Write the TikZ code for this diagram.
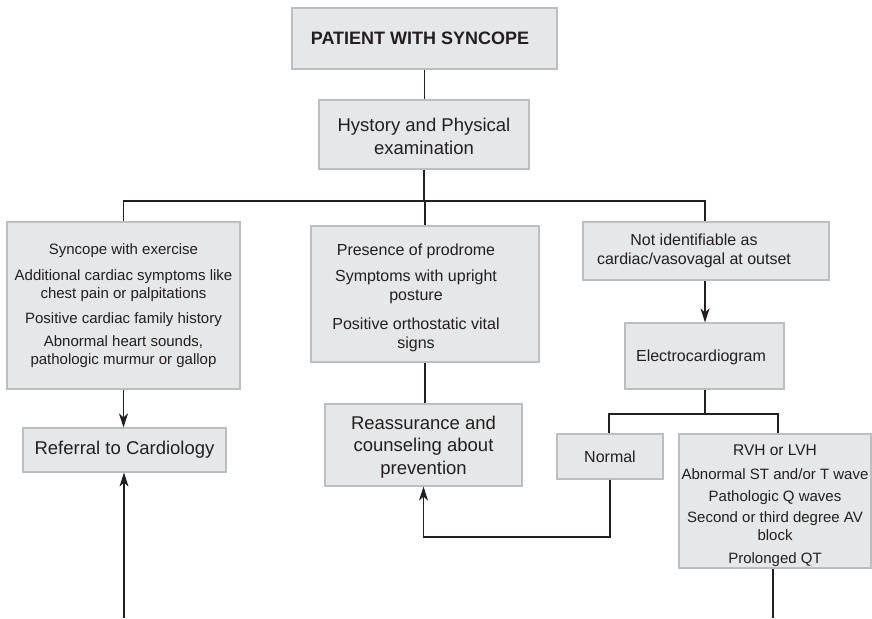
\documentclass[tikz,border=0pt]{standalone}
\usepackage{fontspec}
\setmainfont{Liberation Sans}
\usetikzlibrary{arrows.meta}
\definecolor{boxfill}{HTML}{E6E7E8}
\definecolor{boxline}{HTML}{BDBEC0}
\definecolor{ink}{HTML}{231F20}
\begin{document}
\begin{tikzpicture}[x=1pt,y=-1pt,
  box/.style={draw=boxline, fill=boxfill, line width=1.2pt, inner sep=0pt, align=center, text=ink},
  fsm/.style={font=\fontsize{15}{18}\selectfont},
  fmd/.style={font=\fontsize{16}{19}\selectfont},
  fbg/.style={font=\fontsize{18.5}{22.5}\selectfont},
  conn/.style={draw=ink, line width=1.1pt},
  arr/.style={conn, -{Stealth[length=14pt,width=9pt,inset=4pt]}}
]
\useasboundingbox (0,0) rectangle (872,618);

\node[box, font=\bfseries\fontsize{18}{21}\selectfont, minimum width=265pt, minimum height=61pt] (top) at (424.5,38.5) {\hspace*{-9pt}PATIENT WITH SYNCOPE};
\node[box, fbg, minimum width=210pt, minimum height=69pt] (hist) at (424,134.5) {\rule{0pt}{17.5pt}Hystory and Physical\\examination};

\node[box, fsm, minimum width=233pt, minimum height=167pt] (ex) at (123.5,305.5)
  {Syncope with exercise\\[8pt]Additional cardiac symptoms like\\chest pain or palpitations\\[7pt]Positive cardiac family history\\[5pt]Abnormal heart sounds,\\pathologic murmur or gallop};
\node[box, fmd, minimum width=228pt, minimum height=136pt] (pro) at (425,294)
  {\hspace*{-18pt}\rule{0pt}{19pt}Presence of prodrome\\[7pt]\hspace*{-18pt}Symptoms with upright\\\hspace*{-18pt}posture\\[10pt]\hspace*{-18pt}Positive orthostatic vital\\\hspace*{-18pt}signs};
\node[box, fmd, minimum width=246pt, minimum height=58pt] (nid) at (706,251)
  {\hspace*{-24pt}Not identifiable as\\\hspace*{-24pt}cardiac/vasovagal at outset};
\node[box, fmd, minimum width=159pt, minimum height=66pt] (ecg) at (704.5,356) {\hspace*{-7pt}\rule{0pt}{15pt}Electrocardiogram};
\node[box, fbg, minimum width=203pt, minimum height=44pt] (ref) at (124.5,450) {Referral to Cardiology};
\node[box, fbg, minimum width=197pt, minimum height=82pt] (rea) at (423.5,445) {\rule{0pt}{17.5pt}Reassurance and\\counseling about\\prevention};
\node[box, fmd, minimum width=106pt, minimum height=45pt] (nor) at (610,456.5) {Normal};
\node[box, fsm, minimum width=192pt, minimum height=134pt] (rvh) at (775,501)
  {{\fontsize{15.5}{18}\selectfont\rule{0pt}{21pt}RVH or LVH}\\[6pt]Abnormal ST and/or T wave\\[4pt]Pathologic Q waves\\[3pt]Second or third degree AV\\block\\[5pt]Prolonged QT};

\coordinate (bus) at (0,201);
\coordinate (bus2) at (0,414);
\coordinate (loop) at (0,537);
\coordinate (refin) at (124,618);
\coordinate (rvhout) at (773,618);

\draw[conn] (top.south) -- (top.south |- hist.north);
\draw[conn] (hist.south) -- (hist.south |- bus);
\draw[conn] (ex.north) -- (ex.north |- bus) -- ([xshift=-1pt]nid.north |- bus) -- ([xshift=-1pt]nid.north);
\draw[conn] (pro.north) -- (pro.north |- bus);
\draw[arr] (ex.south) -- (ex.south |- ref.north);
\draw[arr] (refin) -- (refin |- ref.south);
\draw[conn] (pro.south) -- (pro.south |- rea.north);
\draw[arr] ([xshift=-1pt]nid.south) -- ([xshift=-1pt]nid.south |- ecg.north);
\draw[conn] ([xshift=0.5pt]ecg.south) -- ([xshift=0.5pt]ecg.south |- bus2);
\draw[conn] ([xshift=-1pt]nor.north) -- ([xshift=-1pt]nor.north |- bus2) -- ([xshift=3pt]rvh.north |- bus2) -- ([xshift=3pt]rvh.north);
\draw[arr] (nor.south) -- (nor.south |- loop) -- (rea.south |- loop) -- (rea.south);
\draw[conn] (rvhout |- rvh.south) -- (rvhout);
\end{tikzpicture}
\end{document}
